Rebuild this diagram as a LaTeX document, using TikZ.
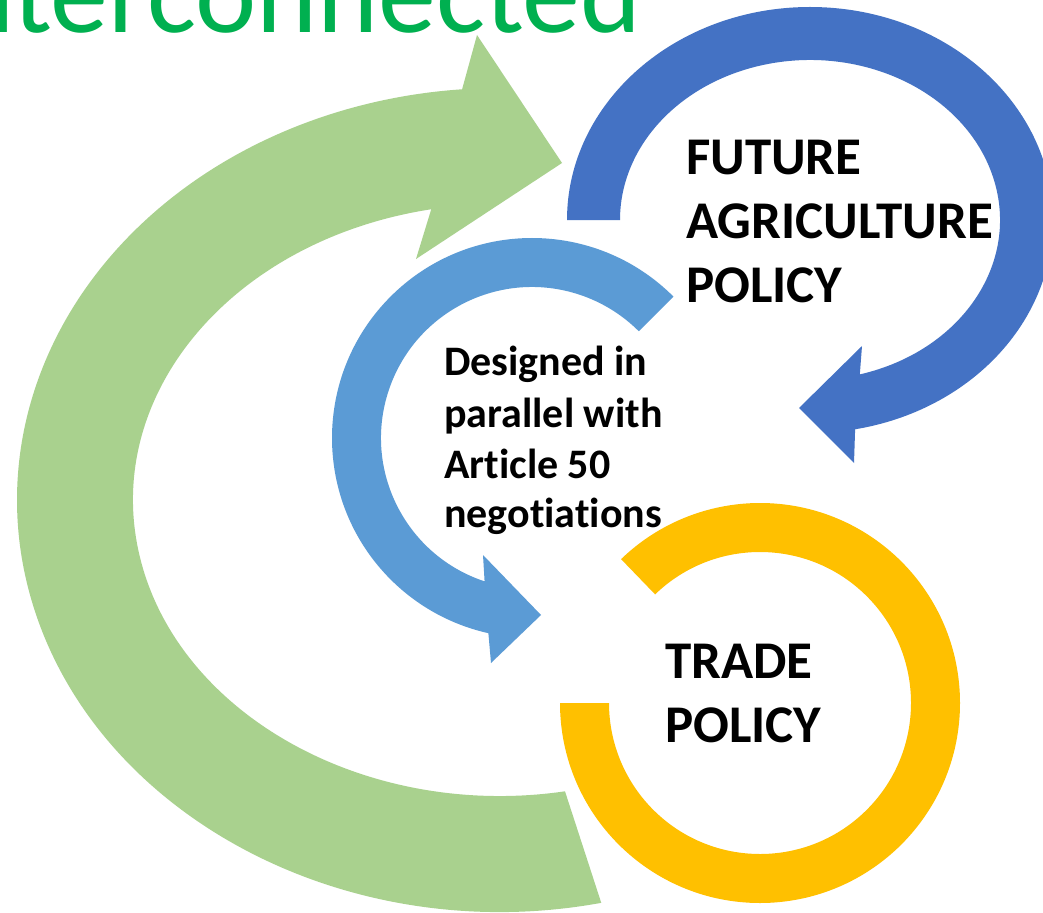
\documentclass[tikz,border=0pt]{standalone}
\usepackage{fontspec}
\setmainfont{Carlito}[RawFeature={-liga}]
\definecolor{agreen}{HTML}{A9D18E}
\definecolor{dblue}{HTML}{4472C4}
\definecolor{lblue}{HTML}{5B9BD5}
\definecolor{ayellow}{HTML}{FFC000}
\definecolor{tgreen}{HTML}{00B050}
\begin{document}
\begin{tikzpicture}[x=1pt,y=1pt,
  bigtxt/.style={anchor=base west, inner sep=0pt, font=\fontsize{53}{62}\selectfont\bfseries},
  midtxt/.style={anchor=base west, inner sep=0pt, font=\fontsize{42}{50}\selectfont\bfseries},
  titletxt/.style={anchor=base west, inner sep=0pt, text=tgreen, font=\fontsize{116}{120}\selectfont}]
\clip (0,0) rectangle (1043,-912);
\fill[white] (0,0) rectangle (1043,-912);

% green outer arrow
\fill[agreen] ([shift={(500,-500)}]282.1:483pt and 412pt)
  arc[start angle=282.1, end angle=94.5, x radius=483pt, y radius=412pt]
  -- (477,-35) -- (562,-163) -- (416,-259)
  -- ([shift={(500,-500)}]100.8:367pt and 296pt)
  arc[start angle=100.8, end angle=280.2, x radius=367pt, y radius=296pt] -- cycle;

% dark blue arrow
\fill[dblue] (567,-220)
  arc[start angle=180, end angle=-79.3, x radius=243pt, y radius=213pt]
  -- (854,-463) -- (799,-408) -- (862,-346)
  -- ([shift={(810,-220)}]-74.8:190pt and 160pt)
  arc[start angle=-74.8, end angle=180, x radius=190pt, y radius=160pt] -- cycle;

% light blue arrow
\fill[lblue] ([shift={(532,-438)}]45:200pt)
  arc[start angle=45, end angle=257.4, radius=200pt]
  -- (491,-663) -- (541,-615) -- (483,-555)
  -- ([shift={(532,-438)}]251.7:151pt)
  arc[start angle=251.7, end angle=45, radius=151pt] -- cycle;

% yellow ring
\fill[ayellow] (560,-703)
  arc[start angle=180, end angle=494, radius=200pt]
  -- ([shift={(760,-703)}]134:151pt)
  arc[start angle=134, end angle=-180, radius=151pt] -- cycle;

% texts
\node[titletxt] (title) at (-47,-33) {nterconnected};

\node[bigtxt] (fap1) at (686,-175) {FUTURE};
\node[bigtxt] (fap2) at (686,-238) {AGRICULTURE};
\node[bigtxt] (fap3) at (686,-302) {POLICY};

\node[midtxt] (dp1) at (444,-375) {Designed in};
\node[midtxt] (dp2) at (444,-427) {parallel with};
\node[midtxt] (dp3) at (444,-478) {Article 50};
\node[midtxt] (dp4) at (444,-527) {negotiations};

\node[bigtxt] (tp1) at (665,-678) {TRADE};
\node[bigtxt] (tp2) at (665,-742) {POLICY};
\end{tikzpicture}
\end{document}
